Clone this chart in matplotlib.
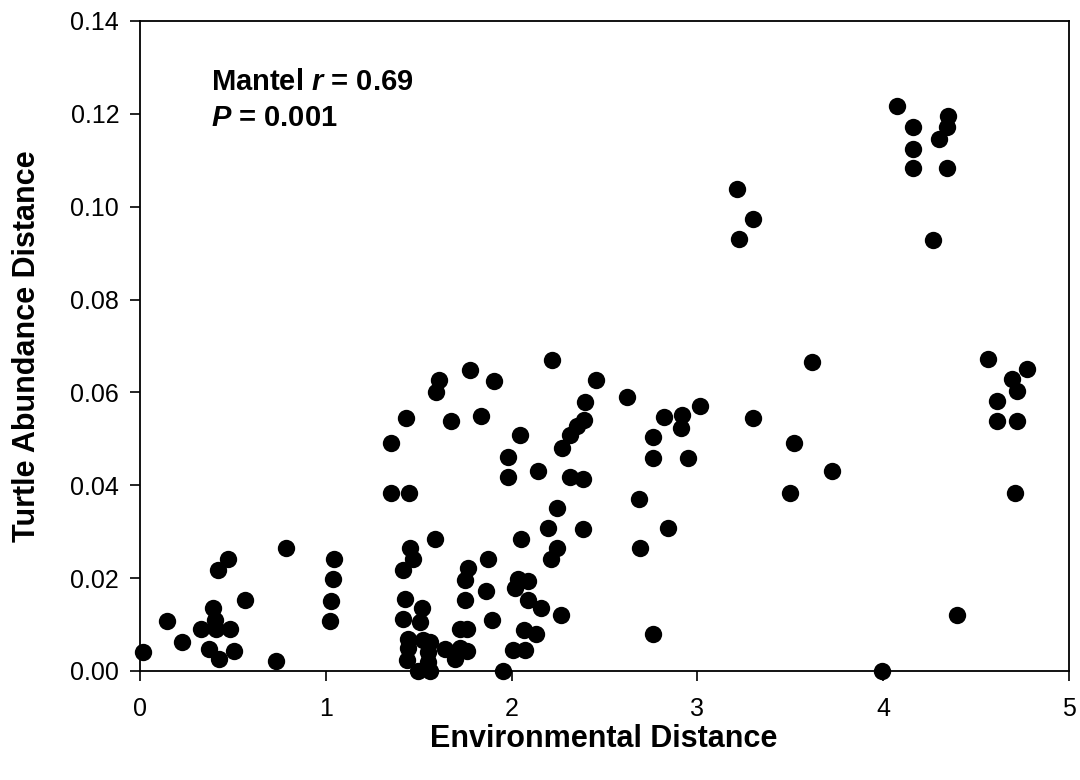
import matplotlib
matplotlib.use("Agg")
import matplotlib.pyplot as plt

plt.rcParams['font.family'] = ['Liberation Sans', 'DejaVu Sans']
plt.rcParams['mathtext.fontset'] = 'custom'
plt.rcParams['mathtext.bfit'] = 'Liberation Sans:italic:bold'
plt.rcParams['mathtext.it'] = 'Liberation Sans:italic'
plt.rcParams['mathtext.bf'] = 'Liberation Sans:bold'
plt.rcParams['mathtext.rm'] = 'Liberation Sans'

env_dist = [
    0.015, 0.147, 0.228, 0.33, 0.395, 0.405, 0.41, 0.484, 0.373, 0.427, 0.506,
    0.42, 0.475, 0.567, 0.73, 0.786, 1.044, 1.04, 1.028, 1.023,
    1.351, 1.351, 1.449, 1.432, 1.611, 1.593, 1.674,
    1.453, 1.47, 1.417, 1.59, 1.426, 1.516, 1.417, 1.507,
    1.444, 1.444, 1.435, 1.498, 1.561, 1.561, 1.552, 1.552, 1.525, 1.64, 1.695,
    1.722, 1.762, 1.722, 1.762, 1.749, 1.749, 1.767, 1.862, 1.893, 1.875,
    1.776, 1.905, 1.834, 2.216, 2.452, 2.395, 2.391, 2.35, 2.314, 2.273, 2.045,
    1.982, 1.982, 2.14, 2.314, 2.386, 2.246, 2.198, 2.386, 2.246, 2.21, 2.049,
    2.036, 2.09, 2.018, 2.09, 2.156, 2.264, 2.067, 2.131, 2.009, 2.072, 1.952,
    2.619, 2.82, 2.915, 2.91, 3.014, 2.763, 2.763, 2.951, 2.687, 2.843, 2.691, 2.763,
    3.213, 3.224, 3.299,
    3.619, 3.301, 3.52, 3.723, 3.498, 3.992,
    4.073, 4.162, 4.162, 4.162, 4.35, 4.342, 4.302, 4.342, 4.266,
    4.566, 4.772, 4.691, 4.718, 4.611, 4.611, 4.718, 4.709, 4.395,
]
turtle_dist = [
    0.0042, 0.0108, 0.0063, 0.0090, 0.0135, 0.0110, 0.0090, 0.0090, 0.0047, 0.0026, 0.0044,
    0.0217, 0.0241, 0.0154, 0.0022, 0.0264, 0.0241, 0.0198, 0.0151, 0.0108,
    0.0492, 0.0384, 0.0384, 0.0545, 0.0627, 0.0601, 0.0538,
    0.0264, 0.0241, 0.0217, 0.0285, 0.0156, 0.0135, 0.0113, 0.0106,
    0.0070, 0.0049, 0.0024, 0.0001, 0.0000, 0.0063, 0.0042, 0.0020, 0.0067, 0.0047, 0.0026,
    0.0049, 0.0044, 0.0090, 0.0090, 0.0153, 0.0196, 0.0221, 0.0173, 0.0110, 0.0241,
    0.0649, 0.0624, 0.0549, 0.0670, 0.0627, 0.0580, 0.0541, 0.0528, 0.0508, 0.0481, 0.0508,
    0.0460, 0.0417, 0.0430, 0.0418, 0.0414, 0.0351, 0.0309, 0.0305, 0.0264, 0.0241, 0.0285,
    0.0199, 0.0194, 0.0178, 0.0153, 0.0135, 0.0120, 0.0088, 0.0079, 0.0045, 0.0045, 0.0000,
    0.0591, 0.0548, 0.0551, 0.0523, 0.0570, 0.0503, 0.0459, 0.0459, 0.0371, 0.0307, 0.0264, 0.0080,
    0.1039, 0.0931, 0.0974,
    0.0665, 0.0545, 0.0492, 0.0430, 0.0384, 0.0000,
    0.1216, 0.1172, 0.1125, 0.1084, 0.1196, 0.1172, 0.1146, 0.1084, 0.0929,
    0.0672, 0.0650, 0.0629, 0.0604, 0.0581, 0.0538, 0.0538, 0.0384, 0.0121,
]

x_ticks = [0, 1, 2, 3, 4, 5]
y_ticks = [0.00, 0.02, 0.04, 0.06, 0.08, 0.10, 0.12, 0.14]
y_tick_labels = ['0.00', '0.02', '0.04', '0.06', '0.08', '0.10', '0.12', '0.14']

W, H = 1080, 780
fig = plt.figure(figsize=(W / 100, H / 100), dpi=100)
ax = fig.add_axes([140 / W, 1 - 671 / H, (1069 - 140) / W, (671 - 21) / H])

ax.plot(env_dist, turtle_dist, 'o', color='black', markersize=12.5,
        markeredgewidth=0, clip_on=False, zorder=3)

ax.set_xlim(0, 5)
ax.set_ylim(0, 0.14)
ax.set_xticks(x_ticks)
ax.set_xticklabels([str(t) for t in x_ticks])
ax.set_yticks(y_ticks)
ax.set_yticklabels(y_tick_labels)
ax.tick_params(direction='out', length=7, width=1.2, labelsize=18, pad=8,
               top=False, right=False)
ax.tick_params(axis='x', pad=12)
for sp in ax.spines.values():
    sp.set_linewidth(1.3)

fig.text(604 / W, 1 - 739 / H, 'Environmental Distance', ha='center', va='center',
         fontsize=22, fontweight='bold')
fig.text(27 / W, 1 - 346 / H, 'Turtle Abundance Distance', ha='center', va='center',
         rotation=90, fontsize=22, fontweight='bold')

fig.text(211 / W, 1 - 90 / H, r'Mantel $\mathbfit{r}$ = 0.69', ha='left', va='baseline',
         fontsize=21, fontweight='bold')
fig.text(211 / W, 1 - 126 / H, r'$\mathbfit{P}$ = 0.001', ha='left', va='baseline',
         fontsize=21, fontweight='bold')

fig.savefig('out.png', dpi=100)
